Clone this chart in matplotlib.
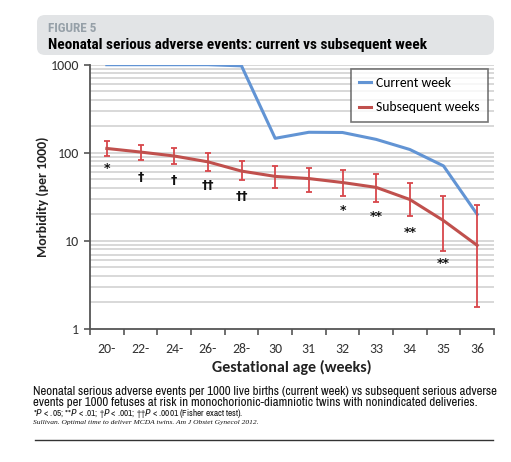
import matplotlib
matplotlib.use("Agg")
import matplotlib.pyplot as plt
from matplotlib.patches import FancyBboxPatch
from matplotlib.lines import Line2D
import numpy as np

categories = ["20-", "22-", "24-", "26-", "28-", "30", "31", "32", "33", "34", "35", "36"]
current_week = [1000, 1000, 1000, 1000, 970, 146, 171, 170, 142, 109, 71, 20]
subsequent = [112, 102, 92, 79, 62, 54, 51, 46, 40.5, 29.5, 17, 8.9]
sub_upper = [136, 122, 114, 100, 81, 71, 68, 64, 57, 46, 32, 25.5]
sub_lower = [92, 83, 74, 62, 49, 40, 36, 32, 28, 19, 7.6, 1.8]
sig_labels = ["*", "†", "†", "††", "††", "", "", "*", "**", "**", "**", ""]
sig_y = [66, 53, 48, 42, 32, None, None, 22, 19, 12.6, 5.5, None]
yticks = [1, 10, 100, 1000]

W, H = 511, 462
fig = plt.figure(figsize=(W / 100, H / 100), dpi=100)
fig.patch.set_facecolor("white")

def fx(px):
    return px / W

def fy(py):
    return 1 - py / H

COND = ["Roboto Condensed", "DejaVu Sans"]
NARROW = ["Archivo Narrow", "DejaVu Sans"]
SANS = ["Carlito", "DejaVu Sans"]

# header box
box = FancyBboxPatch((fx(37), fy(55)), fx(494) - fx(37), fy(15) - fy(55),
                     boxstyle="round,pad=0,rounding_size=0.016",
                     transform=fig.transFigure, facecolor="#e2e4e6",
                     edgecolor="none", zorder=0)
fig.patches.append(box)
fig.text(fx(48), fy(28.5), "FIGURE 5", family=COND, fontweight="bold",
         fontsize=9.5, color="#96a0a8", va="center", ha="left")
fig.text(fx(48), fy(45), "Neonatal serious adverse events: current vs subsequent week",
         family=COND, fontweight="bold", fontsize=11, color="black",
         va="center", ha="left")

ax = fig.add_axes([fx(90), fy(329), fx(494) - fx(90), fy(64.7) - fy(329)])
x = np.arange(len(categories))

ax.set_yscale("log")
ax.set_ylim(1, 1000)
ax.set_xlim(-0.5, len(categories) - 0.5)

# grid lines
for dec in [1, 10, 100]:
    for m in range(1, 10):
        v = dec * m
        if v == 1:
            continue
        ax.axhline(v, color="#d2d2d2", lw=1.2, zorder=0)
ax.axhline(1000, color="#d2d2d2", lw=1.2, zorder=0)

ax.plot(x, current_week, color="#6294d4", lw=2.2, zorder=3, label="Current week")
yerr = [np.array(subsequent) - np.array(sub_lower), np.array(sub_upper) - np.array(subsequent)]
ax.errorbar(x, subsequent, yerr=yerr, fmt="none", ecolor="#d8464b", elinewidth=1.3,
            capsize=2.2, capthick=1.3, zorder=4)
ax.plot(x, subsequent, color="#c0504d", lw=2.2, zorder=5, label="Subsequent weeks")

for xi, lab, yv in zip(x, sig_labels, sig_y):
    if lab and yv:
        ax.text(xi, yv, lab, ha="center", va="center", fontsize=9,
                fontweight="bold", color="#111111", family=["DejaVu Sans"])

ax.set_yticks(yticks)
ax.set_yticklabels([str(v) for v in yticks])
ax.yaxis.set_minor_locator(matplotlib.ticker.NullLocator())
ax.set_xticks(x)
ax.set_xticklabels(categories)
ax.set_xticks(np.arange(-0.5, len(categories)), minor=True)
ax.tick_params(axis="x", which="major", length=0, pad=10, labelsize=10, colors="#333333")
ax.tick_params(axis="x", which="minor", length=4, width=1.2, color="#555555", direction="out")
ax.tick_params(axis="y", which="major", length=4, width=1.2, color="#555555",
               labelsize=10, labelcolor="#333333", pad=4)
for lab in ax.get_xticklabels() + ax.get_yticklabels():
    lab.set_family(SANS)

for s in ["top", "right"]:
    ax.spines[s].set_visible(False)
for s in ["left", "bottom"]:
    ax.spines[s].set_color("#555555")
    ax.spines[s].set_linewidth(1.3)

ax.set_ylabel("Morbidity (per 1000)", family=SANS, fontweight="bold", fontsize=10,
              color="#222222", labelpad=1)
ax.set_xlabel("Gestational age (weeks)", family=SANS, fontweight="bold", fontsize=11.5,
              color="#222222", labelpad=4)

handles = [Line2D([], [], color="#6294d4", lw=2.2), Line2D([], [], color="#c0504d", lw=2.2)]
leg = ax.legend(handles, ["Current week", "Subsequent weeks"], loc="upper right",
                bbox_to_anchor=(fx(488), fy(69)), bbox_transform=fig.transFigure,
                prop={"family": SANS, "size": 9.8}, frameon=True, fancybox=False,
                handlelength=0.9, handletextpad=0.35, borderpad=0.6, labelspacing=0.9,
                borderaxespad=0)
leg.get_frame().set_edgecolor("#555555")
leg.get_frame().set_linewidth(1.2)
leg.set_zorder(10)

# caption
fig.text(fx(33), fy(391.5), "Neonatal serious adverse events per 1000 live births (current week) vs subsequent serious adverse",
         family=NARROW, fontsize=9.25, color="#111111", va="center", ha="left")
fig.text(fx(33), fy(403), "events per 1000 fetuses at risk in monochorionic-diamniotic twins with nonindicated deliveries.",
         family=NARROW, fontsize=9.25, color="#111111", va="center", ha="left")
fig.text(fx(33), fy(414), "*$\\it{P}$ < .05; **$\\it{P}$ < .01; †$\\it{P}$ < .001; ††$\\it{P}$ < .0001 (Fisher exact test).",
         family=NARROW, fontsize=6.6, color="#111111", va="center", ha="left")
fig.text(fx(33), fy(422.5), "Sullivan. Optimal time to deliver MCDA twins. Am J Obstet Gynecol 2012.",
         family=["Liberation Serif", "DejaVu Serif"], style="italic", fontsize=5.4,
         color="#111111", va="center", ha="left")
fig.add_artist(Line2D([fx(35), fx(493)], [fy(439.5), fy(439.5)], transform=fig.transFigure,
                      color="#333333", lw=1.0))

fig.savefig("out.png", dpi=100, facecolor="white")
